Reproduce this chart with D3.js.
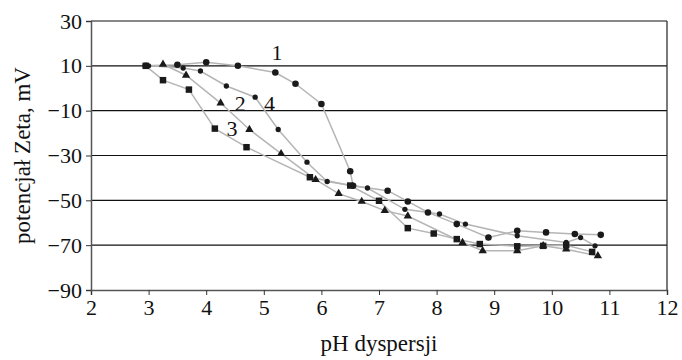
<!DOCTYPE html>
<html>
<head>
<meta charset="utf-8">
<script src="https://cdn.jsdelivr.net/npm/d3@7"></script>
<style>
    body { margin: 0; background: #fff; }
    svg text { font-family: "Liberation Serif", "DejaVu Serif", serif; fill: #111; }
</style>
</head>
<body>
<svg id="chart" width="682" height="360"></svg>
<script>
// Axis ticks
const xTicks = [2, 3, 4, 5, 6, 7, 8, 9, 10, 11, 12];
const yTicks = [30, 10, -10, -30, -50, -70, -90];

// Series values: [pH, zeta mV]
const series1 = [[2.95, 10], [3.5, 10.5], [4.0, 11.6], [4.55, 10], [5.2, 7], [5.55, 2], [6.0, -7],
    [6.5, -37], [6.55, -43.5], [7.15, -45.7], [7.5, -50.5], [7.85, -55.4], [8.35, -60.6],
    [8.9, -66.6], [9.4, -63.6], [9.9, -64.3], [10.4, -65], [10.85, -65.4]];
const series2 = [[3.25, 10.7], [3.65, 5.8], [4.25, -6.6], [4.75, -18.4], [5.3, -29.2], [5.9, -40.8],
    [6.3, -47], [6.7, -50.5], [7.1, -54.6], [7.5, -57], [8.45, -68.8], [8.8, -72.5],
    [9.4, -72.5], [9.85, -70.3], [10.25, -71.8], [10.8, -74.8]];
const series3 = [[2.95, 10], [3.25, 3.6], [3.7, -0.6], [4.15, -18], [4.7, -26.3], [5.8, -39.7],
    [6.5, -43.4], [7.0, -50.2], [7.5, -62.4], [7.95, -64.8], [8.35, -67.3], [8.75, -69.5],
    [9.4, -70.5], [9.85, -70.3], [10.25, -70], [10.7, -73]];
const series4 = [[3.0, 10], [3.6, 9], [3.9, 7.7], [4.35, 1], [4.85, -4], [5.25, -18.4], [5.75, -33],
    [6.1, -41.6], [6.8, -44.5], [7.45, -54], [8.05, -56.1], [8.5, -60.6], [9.4, -65.8],
    [10.25, -68.8], [10.5, -66.6], [10.75, -70.3]];

const seriesList = [
    { data: series1, symbol: d3.symbolCircle, size: 34, label: '1', labelAt: [5.23, 12.5] },
    { data: series2, symbol: d3.symbolTriangle, size: 30, label: '2', labelAt: [4.59, -10] },
    { data: series3, symbol: d3.symbolSquare, size: 42, label: '3', labelAt: [4.45, -21.5] },
    { data: series4, symbol: d3.symbolCircle, size: 22, label: '4', labelAt: [5.1, -10] }
];

const margin = { top: 21, right: 15, bottom: 70, left: 91 };
const width = 682, height = 360;

const svg = d3.select('#chart');

const x = d3.scaleLinear().domain([2, 12]).range([margin.left, width - margin.right]);
const y = d3.scaleLinear().domain([-90, 30]).range([height - margin.bottom, margin.top]);

// Gridlines
svg.append('g')
    .selectAll('line')
    .data(yTicks.filter(d => d !== -90))
    .enter()
    .append('line')
    .attr('x1', x(2)).attr('x2', x(12))
    .attr('y1', d => y(d)).attr('y2', d => y(d))
    .attr('stroke', '#111')
    .attr('stroke-width', 1.2);

// Right border
svg.append('line')
    .attr('x1', x(12)).attr('x2', x(12))
    .attr('y1', y(30)).attr('y2', y(-90))
    .attr('stroke', '#222').attr('stroke-width', 1.2);

// Axes
const xAxis = svg.append('g')
    .attr('transform', `translate(0,${y(-90)})`)
    .call(d3.axisBottom(x).tickValues(xTicks).tickSize(5).tickPadding(4).tickFormat(d3.format('d')));
const yAxis = svg.append('g')
    .attr('transform', `translate(${x(2)},0)`)
    .call(d3.axisLeft(y).tickValues(yTicks).tickSize(5).tickPadding(4).tickFormat(d3.format('d')));

[xAxis, yAxis].forEach(g => {
    g.select('.domain').attr('stroke', '#555').attr('stroke-width', 1.5);
    g.selectAll('.tick line').attr('stroke', '#333');
    g.selectAll('.tick text').style('font-size', '22px').attr('fill', '#111');
});

// Lines
const line = d3.line().x(d => x(d[0])).y(d => y(d[1]));
seriesList.forEach(s => {
    svg.append('path')
        .datum(s.data)
        .attr('d', line)
        .attr('fill', 'none')
        .attr('stroke', '#b5b5b5')
        .attr('stroke-width', 1.5);
});

// Markers
seriesList.forEach(s => {
    svg.append('g')
        .selectAll('path')
        .data(s.data)
        .enter()
        .append('path')
        .attr('transform', d => `translate(${x(d[0])},${y(d[1])})`)
        .attr('d', d3.symbol().type(s.symbol).size(s.size))
        .attr('fill', '#1a1a1a');
});

// Series labels
seriesList.forEach(s => {
    svg.append('text')
        .attr('x', x(s.labelAt[0]))
        .attr('y', y(s.labelAt[1]))
        .attr('text-anchor', 'middle')
        .style('font-size', '22px')
        .text(s.label);
});

// Axis titles
svg.append('text')
    .attr('x', (x(2) + x(12)) / 2)
    .attr('y', 351)
    .attr('text-anchor', 'middle')
    .style('font-size', '23px')
    .text('pH dyspersji');

svg.append('text')
    .attr('transform', `translate(30,${(y(30) + y(-90)) / 2}) rotate(-90)`)
    .attr('text-anchor', 'middle')
    .style('font-size', '23px')
    .text('potencjał Zeta, mV');
</script>
</body>
</html>
